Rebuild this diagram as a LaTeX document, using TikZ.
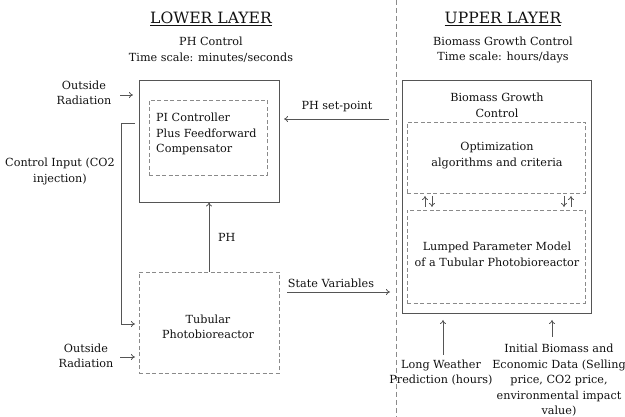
\documentclass[tikz,border=0pt]{standalone}
\usepackage{fontspec}
\setmainfont{DejaVu Serif}
\usetikzlibrary{arrows.meta}
\definecolor{lineg}{HTML}{555555}
\definecolor{dashg}{HTML}{8A8A8A}
\definecolor{txt}{HTML}{111111}
\tikzset{
  lbl/.style={align=center,inner sep=0pt,text=txt,font=\fontsize{11.2}{15.5}\selectfont},
  ttl/.style={inner sep=0pt,text=txt,font=\fontsize{15.6}{18}\selectfont},
  solidbox/.style={draw=lineg,line width=0.9pt,inner sep=0pt},
  dashbox/.style={draw=dashg,line width=0.8pt,dash pattern=on 4pt off 2.5pt,inner sep=0pt},
  conn/.style={draw=lineg,line width=0.8pt,-{To[length=4pt,width=6pt]}},
  plain/.style={draw=lineg,line width=0.8pt}
}
\begin{document}
\begin{tikzpicture}[x=1pt,y=-1pt]
\useasboundingbox (0,0) rectangle (625,417);
% divider
\draw[draw=dashg,line width=0.8pt,dash pattern=on 5pt off 3pt] (396,0) -- (396,417);
% titles
\node[ttl] (lt) at (211,19) {\underline{LOWER LAYER}};
\node[lbl] (lsub) at (211,50) {PH Control\\Time scale: minutes/seconds};
\node[ttl] (ut) at (503,19) {\underline{UPPER LAYER}};
\node[lbl] (usub) at (503,50) {Biomass Growth Control\\Time scale: hours/days};
% lower layer boxes
\node[solidbox,minimum width=140pt,minimum height=122pt] (pio) at (209,141) {};
\node[dashbox,minimum width=118pt,minimum height=75pt] (pii) at (208,137.5) {};
\node[lbl,align=left,anchor=west] (pitxt) at (156,134) {PI Controller\\Plus Feedforward\\Compensator};
\node[dashbox,minimum width=140pt,minimum height=101pt] (tub) at (209,322.5) {};
\node[lbl] (tubtxt) at (208,327) {Tubular\\Photobioreactor};
% upper layer boxes
\node[solidbox,minimum width=189pt,minimum height=233pt] (bio) at (496.5,196.5) {};
\node[lbl] (biotxt) at (497,105.5) {Biomass Growth\\Control};
\node[dashbox,minimum width=178pt,minimum height=71pt] (opt) at (496,157.5) {};
\node[lbl] (opttxt) at (497,155.5) {Optimization\\algorithms and criteria};
\node[dashbox,minimum width=178pt,minimum height=93pt] (lump) at (496,256.5) {};
\node[lbl] (lumptxt) at (497,254.5) {Lumped Parameter Model\\of a Tubular Photobioreactor};
% side labels
\node[lbl] (or1) at (84,93) {Outside\\Radiation};
\node[lbl] (or2) at (86,356) {Outside\\Radiation};
\node[lbl] (ci) at (60,171.5) {Control Input (CO2\\injection)};
\node[lbl,anchor=west] (phl) at (218,237) {PH};
\node[lbl] (spl) at (337,107) {PH set-point};
\node[lbl] (svl) at (331,283) {State Variables};
\node[lbl] (lw) at (441,372.5) {Long Weather\\Prediction (hours)};
\node[lbl] (ib) at (559,380.5) {Initial Biomass and\\Economic Data (Selling\\price, CO2 price,\\environmental impact\\value)};
% coordinates
\coordinate (or1s) at (120,95);
\coordinate (or1e) at (133,95);
\coordinate (or2s) at (120,357);
\coordinate (or2e) at (135,357);
\coordinate (cis) at (135,123);
\coordinate (cic1) at (121,123);
\coordinate (cic2) at (121,324);
\coordinate (cie) at (135,324);
\coordinate (sps) at (389,119);
\coordinate (spe) at (284,119);
\coordinate (svs) at (287,292);
\coordinate (sve) at (390,292);
\coordinate (lws) at (443,355);
\coordinate (lwe) at (443,320);
\coordinate (ibs) at (552,337);
\coordinate (ibe) at (552,320);
% connectors
\draw[conn] (or1s) -- (or1e);
\draw[conn] (or2s) -- (or2e);
\draw[conn] (cis) -- (cic1) -- (cic2) -- (cie);
\draw[conn] (tub.north) -- (pio.south);
\draw[conn] (sps) -- (spe);
\draw[conn] (svs) -- (sve);
\draw[conn] (lws) -- (lwe);
\draw[conn] (ibs) -- (ibe);
% small double arrows between opt and lump
\coordinate (a1b) at (425,207); \coordinate (a1t) at (425,196);
\coordinate (a2b) at (432,207); \coordinate (a2t) at (432,196);
\coordinate (a3b) at (564,207); \coordinate (a3t) at (564,196);
\coordinate (a4b) at (571,207); \coordinate (a4t) at (571,196);
\draw[conn] (a1b) -- (a1t);
\draw[conn] (a2t) -- (a2b);
\draw[conn] (a3t) -- (a3b);
\draw[conn] (a4b) -- (a4t);
\end{tikzpicture}
\end{document}
